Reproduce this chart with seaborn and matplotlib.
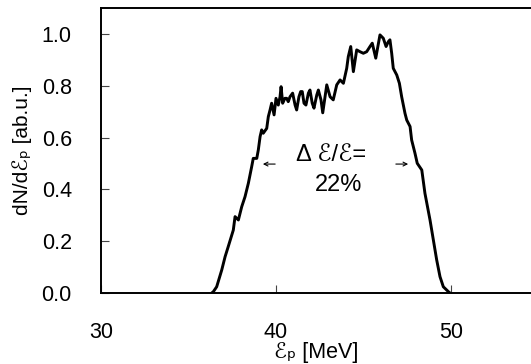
import numpy as np
import pandas as pd
import matplotlib
matplotlib.use('Agg')
import matplotlib.pyplot as plt
import seaborn as sns

# proton spectrum
energy = [36.33, 36.42, 36.61, 36.90, 37.09, 37.27, 37.56, 37.66, 37.85, 38.04,
          38.23, 38.42, 38.61, 38.70, 38.90, 38.99, 39.09, 39.18, 39.27, 39.47,
          39.56, 39.66, 39.75, 39.89, 40.00, 40.13, 40.23, 40.29, 40.38, 40.51,
          40.61, 40.70, 40.80, 40.95, 41.09, 41.18, 41.31, 41.41, 41.50, 41.60,
          41.71, 41.85, 41.94, 42.07, 42.17, 42.33, 42.42, 42.57, 42.67, 42.90,
          43.09, 43.27, 43.47, 43.66, 43.85, 44.04, 44.13, 44.27, 44.42, 44.61,
          44.80, 44.99, 45.18, 45.37, 45.50, 45.70, 45.94, 46.13, 46.29, 46.42,
          46.51, 46.61, 46.70, 46.90, 47.05, 47.18, 47.37, 47.47, 47.66, 47.75,
          47.94, 48.07, 48.33, 48.51, 48.80, 48.99, 49.18, 49.37, 49.56, 49.85,
          49.94]
counts = [0.000, 0.005, 0.024, 0.089, 0.140, 0.179, 0.243, 0.295, 0.282, 0.333,
          0.372, 0.424, 0.488, 0.520, 0.520, 0.553, 0.604, 0.630, 0.617, 0.636,
          0.681, 0.707, 0.733, 0.688, 0.752, 0.726, 0.758, 0.797, 0.733, 0.752,
          0.752, 0.739, 0.758, 0.772, 0.726, 0.707, 0.758, 0.778, 0.778, 0.733,
          0.726, 0.772, 0.784, 0.733, 0.714, 0.765, 0.784, 0.746, 0.696, 0.804,
          0.758, 0.746, 0.804, 0.823, 0.810, 0.868, 0.913, 0.952, 0.855, 0.939,
          0.932, 0.926, 0.932, 0.952, 0.965, 0.907, 0.997, 0.984, 0.952, 0.971,
          0.978, 0.926, 0.868, 0.842, 0.810, 0.758, 0.694, 0.668, 0.643, 0.591,
          0.540, 0.501, 0.475, 0.385, 0.282, 0.205, 0.128, 0.063, 0.024, 0.005,
          0.000]
xticks = [30, 40, 50]
yticks = [0.0, 0.2, 0.4, 0.6, 0.8, 1.0]

df = pd.DataFrame({'E': energy, 'dN': counts})

sns.set_style('ticks')
plt.rcParams['font.family'] = ['Liberation Sans', 'DejaVu Sans']
plt.rcParams['text.color'] = 'black'
plt.rcParams['axes.labelcolor'] = 'black'
plt.rcParams['xtick.labelcolor'] = 'black'
plt.rcParams['ytick.labelcolor'] = 'black'

fig = plt.figure(figsize=(5.31, 3.64), dpi=100)
ax = fig.add_axes([0.1902, 0.1951, 0.8098, 0.783])

sns.lineplot(data=df, x='E', y='dN', color='black', linewidth=2.1, ax=ax, sort=False)

ax.set_xlim(30, 54.57)
ax.set_ylim(0, 1.101)
ax.set_xticks(xticks)
ax.set_yticks(yticks)
ax.set_yticklabels([f'{v:.1f}' for v in yticks])
ax.tick_params(direction='in', length=6, width=0.8, color='#444444',
               labelsize=15.5, pad=21)
ax.spines['right'].set_visible(False)
for s in ['left', 'top', 'bottom']:
    ax.spines[s].set_linewidth(1.4)
    ax.spines[s].set_color('black')

ax.set_xlabel('ℰₚ [MeV]', fontsize=15.5, labelpad=-1)
ax.set_ylabel('dN/dℰₚ [ab.u.]', fontsize=15, labelpad=7)

# FWHM annotation
ax.annotate('', xy=(39.09, 0.498), xytext=(40.11, 0.498),
            arrowprops=dict(arrowstyle='->', lw=0.8, color='black', mutation_scale=7))
ax.annotate('', xy=(47.71, 0.498), xytext=(46.69, 0.498),
            arrowprops=dict(arrowstyle='->', lw=0.8, color='black', mutation_scale=7))
ax.text(43.14, 0.533, 'Δ ℰ/ℰ=', ha='center', va='center', fontsize=17)
ax.text(43.6, 0.417, '22%', ha='center', va='center', fontsize=17)

fig.savefig('out.png', dpi=100)
